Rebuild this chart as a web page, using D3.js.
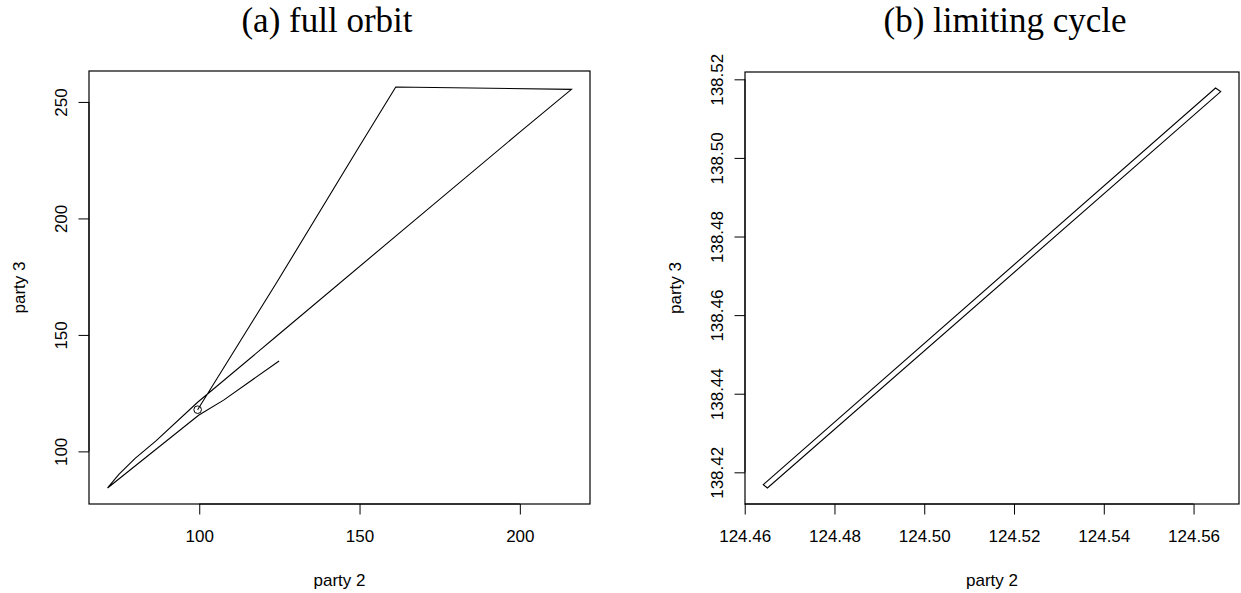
<!DOCTYPE html>
<html>
<head>
<meta charset="utf-8">
<script src="https://cdn.jsdelivr.net/npm/d3@7"></script>
<style>
  body { margin: 0; background: #fff; }
  svg { display: block; }
</style>
</head>
<body>
<svg id="chart" width="1241" height="593"></svg>
<script>
// ---- data ----
const titles = ["(a) full orbit", "(b) limiting cycle"];
const xAxisTitle = "party 2";
const yAxisTitle = "party 3";

// (a) full orbit: party 2 / party 3 trajectory, starting at the circled point
const orbitX = [99.5, 124.3, 149.2, 161.3, 216.1, 199.8, 162.4, 124.0, 99.5, 86.5, 80.0, 75.0, 71.4, 99.8, 107.6, 124.9];
const orbitY = [117.9, 172.8, 229.3, 256.4, 255.4, 236.8, 193.7, 149.3, 121.1, 104.5, 97.0, 90.2, 84.3, 115.5, 122.0, 138.8];
const orbitXTicks = [100, 150, 200];
const orbitYTicks = [100, 150, 200, 250];
const orbitXTickLabels = ["100", "150", "200"];
const orbitYTickLabels = ["100", "150", "200", "250"];

// (b) limiting cycle (closed)
const cycleX = [124.46414, 124.56490, 124.56605, 124.46506];
const cycleY = [138.41686, 138.51779, 138.51686, 138.41601];
const cycleXTicks = [124.46, 124.48, 124.50, 124.52, 124.54, 124.56];
const cycleYTicks = [138.42, 138.44, 138.46, 138.48, 138.50, 138.52];
const cycleXTickLabels = ["124.46", "124.48", "124.50", "124.52", "124.54", "124.56"];
const cycleYTickLabels = ["138.42", "138.44", "138.46", "138.48", "138.50", "138.52"];

// ---- drawing ----
const svg = d3.select("#chart");
const sansFont = "'Liberation Sans', Arial, Helvetica, sans-serif";
const serifFont = "'Liberation Serif', 'Times New Roman', serif";

function rExtent(vals) {
  const [a, b] = d3.extent(vals);
  const p = (b - a) * 0.04;
  return [a - p, b + p];
}

function panel(opt) {
  const { box, xs, ys, xTicks, yTicks, xLabels, yLabels, closed, startMarker, title, titleX } = opt;
  const x = d3.scaleLinear().domain(rExtent(xs)).range([box.left, box.right]);
  const y = d3.scaleLinear().domain(rExtent(ys)).range([box.bottom, box.top]);

  const g = svg.append("g");

  // x axis
  const xa = g.append("g")
    .attr("transform", `translate(0,${box.bottom})`)
    .call(d3.axisBottom(x).tickValues(xTicks).tickSize(10.5).tickPadding(15.5)
      .tickFormat((d, i) => xLabels[i]));
  xa.select(".domain").remove();
  xa.selectAll(".tick line").attr("stroke", "#000").attr("stroke-width", 1);
  xa.selectAll(".tick text").attr("font-family", sansFont).attr("font-size", 17).attr("fill", "#000");

  // y axis
  const ya = g.append("g")
    .attr("transform", `translate(${box.left},0)`)
    .call(d3.axisLeft(y).tickValues(yTicks).tickSize(10.5)
      .tickFormat((d, i) => yLabels[i]));
  ya.select(".domain").remove();
  ya.selectAll(".tick line").attr("stroke", "#000").attr("stroke-width", 1);
  ya.selectAll(".tick text")
    .attr("font-family", sansFont).attr("font-size", 17).attr("fill", "#000")
    .attr("x", null).attr("dy", null)
    .attr("text-anchor", "middle")
    .attr("transform", "translate(-22,0) rotate(-90)");

  // axis lines from first to last tick (R style, coincide with box)
  g.append("line").attr("x1", x(xTicks[0])).attr("x2", x(xTicks[xTicks.length - 1]))
    .attr("y1", box.bottom).attr("y2", box.bottom).attr("stroke", "#000").attr("stroke-width", 1);
  g.append("line").attr("y1", y(yTicks[0])).attr("y2", y(yTicks[yTicks.length - 1]))
    .attr("x1", box.left).attr("x2", box.left).attr("stroke", "#000").attr("stroke-width", 1);

  // box
  g.append("rect")
    .attr("x", box.left).attr("y", box.top)
    .attr("width", box.right - box.left).attr("height", box.bottom - box.top)
    .attr("fill", "none").attr("stroke", "#000").attr("stroke-width", 1.2);

  // path
  const pts = xs.map((v, i) => [v, ys[i]]);
  const line = d3.line().x(d => x(d[0])).y(d => y(d[1])).curve(closed ? d3.curveLinearClosed : d3.curveLinear);
  g.append("path").datum(pts).attr("d", line)
    .attr("fill", "none").attr("stroke", "#000").attr("stroke-width", 1.1).attr("stroke-linejoin", "miter");

  if (startMarker) {
    g.append("circle").attr("cx", x(xs[0])).attr("cy", y(ys[0])).attr("r", 3.8)
      .attr("fill", "none").attr("stroke", "#000").attr("stroke-width", 1);
  }

  // axis titles
  g.append("text").attr("x", (box.left + box.right) / 2).attr("y", 586)
    .attr("text-anchor", "middle").attr("font-family", sansFont).attr("font-size", 17)
    .text(xAxisTitle);
  g.append("text")
    .attr("transform", `translate(${box.left - 64},${(box.top + box.bottom) / 2}) rotate(-90)`)
    .attr("text-anchor", "middle").attr("font-family", sansFont).attr("font-size", 17)
    .text(yAxisTitle);

  // panel title
  g.append("text").attr("x", titleX).attr("y", 32)
    .attr("text-anchor", "middle").attr("font-family", serifFont).attr("font-size", 35)
    .text(title);
}

panel({
  box: { left: 89, right: 590, top: 71, bottom: 504 },
  xs: orbitX, ys: orbitY,
  xTicks: orbitXTicks, yTicks: orbitYTicks,
  xLabels: orbitXTickLabels, yLabels: orbitYTickLabels,
  closed: false, startMarker: true,
  title: titles[0], titleX: 327
});

panel({
  box: { left: 745, right: 1239, top: 72, bottom: 504 },
  xs: cycleX, ys: cycleY,
  xTicks: cycleXTicks, yTicks: cycleYTicks,
  xLabels: cycleXTickLabels, yLabels: cycleYTickLabels,
  closed: true, startMarker: false,
  title: titles[1], titleX: 1005
});
</script>
</body>
</html>
